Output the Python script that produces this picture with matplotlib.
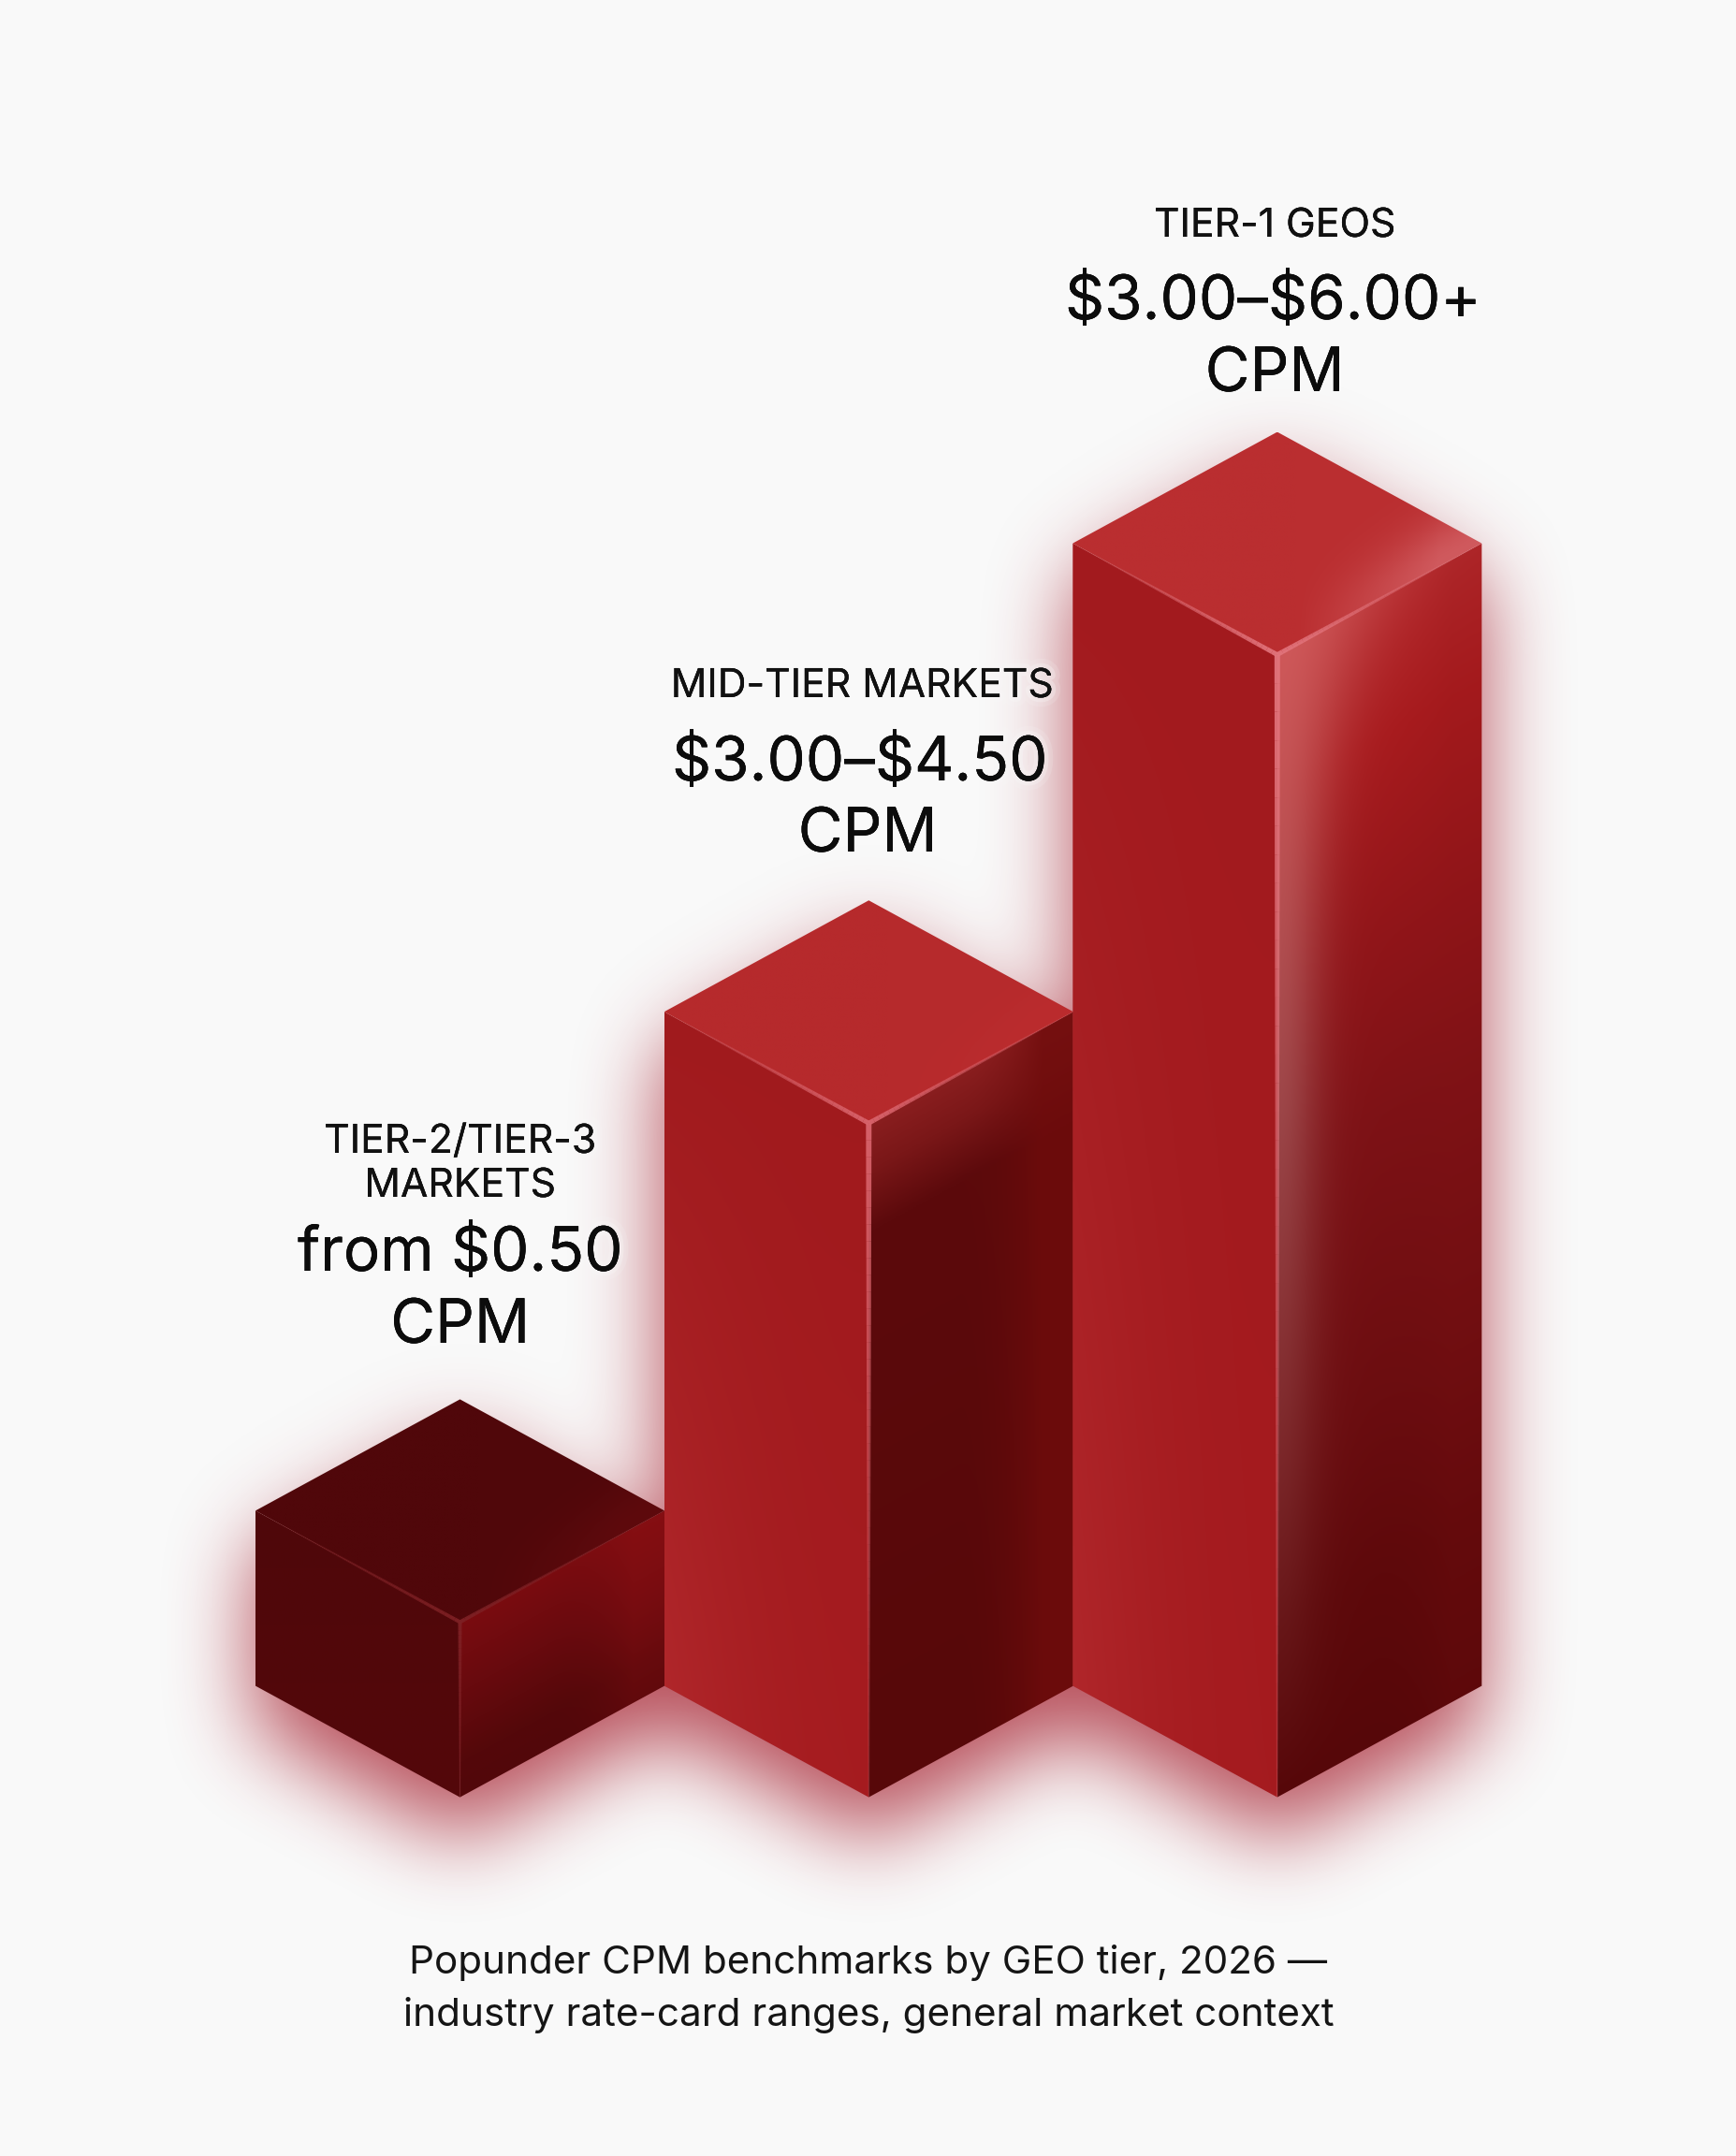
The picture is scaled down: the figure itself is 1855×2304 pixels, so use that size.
import numpy as np
import matplotlib
matplotlib.use("Agg")
import matplotlib.pyplot as plt
import matplotlib.patheffects as pe
from matplotlib.collections import LineCollection
from matplotlib.colors import to_rgb
from matplotlib.patches import Polygon
from matplotlib.path import Path

plt.rcParams['font.family'] = ['Inter', 'DejaVu Sans']

# data, heights in $ CPM-like units
tier_labels = ["TIER-2/TIER-3\nMARKETS", "MID-TIER MARKETS", "TIER-1 GEOS"]
price_labels = ["from $0.50\nCPM", "$3.00–$4.50\nCPM", "$3.00–$6.00+\nCPM"]
bar_heights = [0.92, 3.54, 6.00]
caption = "Popunder CPM benchmarks by GEO tier, 2026 —\nindustry rate-card ranges, general market context"

W, H = 1856, 2304
BG = "#f9f9f9"
px_per_unit = 203.5
half_w = 218.5
half_d = 119
centers = [491.5, 928.3, 1364.8]
front_base = 1920.6

# colours per bar
left_stops = [["#4f070a", "#54080a"], ["#a01a1d", "#a61c20"], ["#a21a1e", "#a51b1f"]]
top_cols = [("#50070a", "#5e0a0d"), ("#b62a2c", "#bb2c2e"), ("#ba2e30", "#d05a5e")]
right_stops = [
    [(0, "#7a0c10"), (0.4, "#680a0e"), (0.8, "#54080a"), (1, "#52070a")],
    [(0, "#8a1e1f"), (0.07, "#7a1718"), (0.16, "#5c0a0c"), (1, "#570809")],
    [(0, "#b3282b"), (0.12, "#a81b1e"), (0.3, "#901519"), (0.45, "#7e1216"), (0.7, "#6b0d10"),
     (0.85, "#5e090b"), (1, "#560709")],
]
# sheen along the front edge: strength, width
sheen = [(0.0, 0.2), (0.0, 0.2), (0.6, 0.2)]
# lighter band towards the right corner: colour, strength
right_lift = [("#8a0f13", 0.7), ("#700c0c", 0.8), ("#8a1315", 0.15)]
edge_cols = ["#7e2024", "#d9646c", "#e2747c"]


def blur(a, size):
    k = np.ones(size) / size
    for _ in range(3):
        a = np.apply_along_axis(lambda r: np.convolve(r, k, mode='same'), 0, a)
        a = np.apply_along_axis(lambda r: np.convolve(r, k, mode='same'), 1, a)
    return a


def face_image(ax, poly, rgb, z):
    xs = [p[0] for p in poly]
    ys = [p[1] for p in poly]
    im = ax.imshow(rgb, extent=(min(xs), max(xs), max(ys), min(ys)), aspect='auto',
                   interpolation='bilinear', zorder=z)
    im.set_clip_path(Polygon(poly, closed=True, transform=ax.transData))


def grad(stops, t):
    pos = [s[0] for s in stops]
    cols = np.array([to_rgb(s[1]) for s in stops])
    return np.dstack([np.interp(t, pos, cols[:, i]) for i in range(3)])


def edge(ax, p0, p1, col, w0, w1, a0, a1, z):
    n = 40
    t = np.linspace(0, 1, n + 1)
    pts = np.outer(1 - t, p0) + np.outer(t, p1)
    segs = np.stack([pts[:-1], pts[1:]], axis=1)
    mid = (t[:-1] + t[1:]) / 2
    cols = np.zeros((n, 4))
    cols[:, :3] = to_rgb(col)
    cols[:, 3] = a0 + (a1 - a0) * mid
    lc = LineCollection(segs, colors=cols, linewidths=(w0 + (w1 - w0) * mid) * 0.72,
                        capstyle='butt', zorder=z)
    lc.set_snap(False)
    ax.add_collection(lc)


fig = plt.figure(figsize=(W / 100, H / 100), dpi=100, facecolor=BG)
ax = fig.add_axes([0, 0, 1, 1])

# glow behind the bars, done on a quarter size grid
sc = 4
gx, gy = np.meshgrid((np.arange(W // sc) + 0.5) * sc, (np.arange(H // sc) + 0.5) * sc)
pts = np.column_stack([gx.ravel(), gy.ravel()])
mask = np.zeros(gx.shape)
for c, h in zip(centers, bar_heights):
    top = front_base - 2 * half_d - h * px_per_unit
    hexa = [(c, top), (c + half_w, top + half_d), (c + half_w, front_base - half_d),
            (c, front_base), (c - half_w, front_base - half_d), (c - half_w, top + half_d)]
    mask = np.maximum(mask, Path(hexa).contains_points(pts).reshape(gx.shape).astype(float))
shift = np.roll(mask, 12, axis=0)
glow = 0.72 * blur(shift, 21) + 0.06 * blur(mask, 25)
glow = np.clip(glow, 0, 1)
rgba = np.zeros(glow.shape + (4,))
rgba[..., :3] = (0.65, 0.12, 0.18)
rgba[..., 3] = glow
ax.imshow(rgba, extent=(0, W, H, 0), aspect='auto', interpolation='bilinear', zorder=1)

for i, (c, h) in enumerate(zip(centers, bar_heights)):
    front_top = front_base - h * px_per_unit
    top_apex = front_top - 2 * half_d
    l_top = (c - half_w, front_top - half_d)
    r_top = (c + half_w, front_top - half_d)
    f_top = (c, front_top)
    f_bot = (c, front_base)
    l_bot = (c - half_w, front_base - half_d)
    r_bot = (c + half_w, front_base - half_d)
    z = 3 + i

    # left face, a bit lighter at the lower left
    ny, nx = 300, 60
    v = np.linspace(0, 1, ny)[:, None] * np.ones((ny, nx))
    u = np.linspace(0, 1, nx)[None, :] * np.ones((ny, nx))
    col0, col1 = left_stops[i]
    rgb = grad([(0, col0), (1, col1)], v)
    if i > 0:
        rgb = np.clip(rgb + ((1 - u) ** 2 * v * 0.05)[..., None], 0, 1)
    face_image(ax, [l_top, f_top, f_bot, l_bot], rgb, z)

    # right face, v runs along the face so it follows the slanted top edge
    yy = np.linspace(r_top[1], f_bot[1], 500)
    xx = np.linspace(c, r_top[0], 160)
    X, Y = np.meshgrid(xx, yy)
    u = (X - c) / half_w
    y_top = front_top - u * half_d
    v = np.clip((Y - y_top) / (h * px_per_unit), 0, 1)
    rgb = grad(right_stops[i], v)
    lift_col, lift_a = right_lift[i]
    a = lift_a * np.clip((u - 0.45) / 0.4, 0, 1) ** 2
    if i == 0:
        a = a * (1 - 0.6 * v)
    rgb = rgb * (1 - a[..., None]) + np.array(to_rgb(lift_col)) * a[..., None]
    s_a, s_w = sheen[i]
    if s_a > 0:
        w = s_w * (1 + 1.4 * np.exp(-v / 0.1))
        a = s_a * np.exp(-(u / w) ** 2) * (1 - v)
        s_col = grad([(0, "#e07878"), (0.4, "#c8a0a0"), (1, "#c8a0a0")], v)
        rgb = rgb * (1 - a[..., None]) + s_col * a[..., None]
    face_image(ax, [f_top, r_top, r_bot, f_bot], rgb, z)

    # top face, lighter along the right front edge
    nt = 200
    xt, yt = np.meshgrid(np.linspace(0, 1, nt), np.linspace(0, 1, nt))
    t = np.exp(-((xt + yt - 1.5) / 0.22) ** 2) * np.clip((xt - 0.55) / 0.35, 0, 1)
    rgb = grad([(0, top_cols[i][0]), (1, top_cols[i][1])], t)
    face_image(ax, [(c, top_apex), r_top, f_top, l_top], rgb, z)

    # bright edges
    ec = edge_cols[i]
    w0 = 5 if i else 4
    edge(ax, f_top, l_top, ec, w0, 1, 0.95, 0.05, z + 0.5)
    edge(ax, f_top, r_top, ec, w0, 1, 0.95, 0.15, z + 0.5)
    edge(ax, f_top, f_bot, ec, 6 if i else 4, 2, 0.95, 0.12, z + 0.5)

# text
halo = [pe.withStroke(linewidth=14, foreground=BG, alpha=0.15),
        pe.withStroke(linewidth=7, foreground=BG, alpha=0.3), pe.Normal()]
tier_xy = [[(491.5, 1232), (491.5, 1279)], [(921, 745)], [(1362, 253)]]
price_xy = [[(491.5, 1358), (491.5, 1435)], [(918.5, 834), (927, 910)], [(1360, 341), (1362, 418)]]
for i in range(3):
    for s, (x, y) in zip(tier_labels[i].split("\n"), tier_xy[i]):
        ax.text(x, y, s, fontsize=30.7, color="#111111", ha='center', va='baseline',
                zorder=10, path_effects=halo, parse_math=False)
    for s, (x, y) in zip(price_labels[i].split("\n"), price_xy[i]):
        ax.text(x, y, s, fontsize=47.2, color="#0c0c0c", ha='center', va='baseline',
                zorder=10, path_effects=halo, parse_math=False)
for s, y in zip(caption.split("\n"), [2109, 2165]):
    ax.text(928, y, s, fontsize=30.4, color="#151515", ha='center', va='baseline', zorder=10)

ax.set_xlim(0, W)
ax.set_ylim(H, 0)
ax.axis('off')
fig.savefig("out.png", dpi=100, facecolor=BG)
